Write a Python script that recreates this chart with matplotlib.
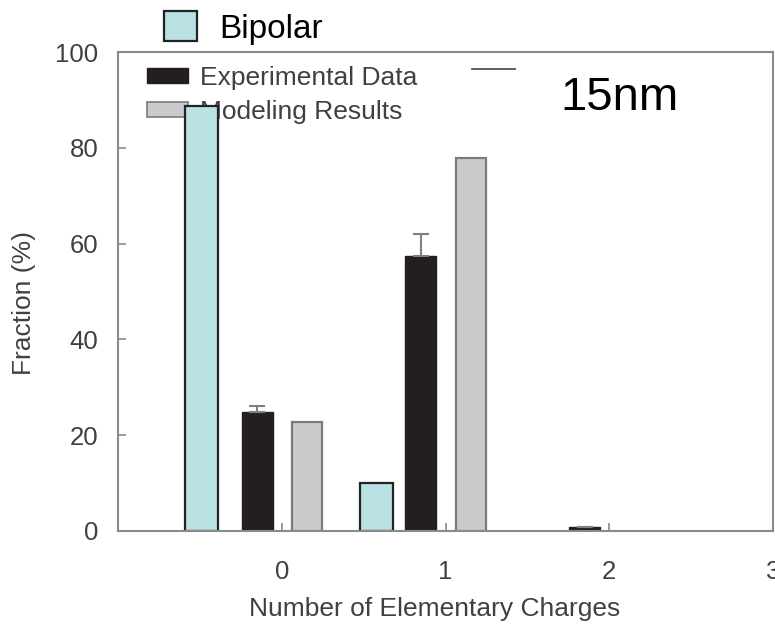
"""Charge distribution of 15nm particles: bipolar vs experiment vs model."""
import matplotlib
matplotlib.use("Agg")
import matplotlib.pyplot as plt
from matplotlib.patches import Patch
from matplotlib.lines import Line2D

plt.rcParams['font.family'] = ['Liberation Sans', 'DejaVu Sans']

# data
charges = [0, 1, 2]
bipolar = [88.7, 10.0]            # only charges 0 and 1
experimental = [24.8, 57.4, 0.9]
exp_err_up = [1.3, 4.6, 0.0]
modeling = [22.8, 77.9]           # nothing at charge 2
tick_labels = ['0', '1', '2', '3']

W, H = 775, 630
fig = plt.figure(figsize=(W / 100, H / 100), dpi=100)
ax = fig.add_axes([118 / W, 1 - 531 / H, 655 / W, 479 / H])

txt = '#404040'
spine_c = '#8a8a8a'

# bipolar bars sit a bit differently in each group
bip_shift = [-0.49, -0.42]
ax.bar([c + s for c, s in zip(charges[:2], bip_shift)], bipolar, width=0.2,
       color='#b9e1e4', edgecolor='#222222', linewidth=1.6, zorder=2)
ax.bar([c - 0.15 for c in charges], experimental, width=0.19,
       color='#231f20', edgecolor='#231f20', linewidth=1.0, zorder=2,
       yerr=[[0] * 3, exp_err_up], capsize=5.8,
       error_kw=dict(ecolor='#808080', elinewidth=1.5, capthick=1.5))
ax.bar([c + 0.155 for c in charges[:2]], modeling, width=0.18,
       color='#c9cbcd', edgecolor='#7a7a7a', linewidth=1.6, zorder=2)

ax.set_xlim(-1, 3)
ax.set_ylim(0, 100)
ax.set_xticks([0, 1, 2, 3])
ax.set_xticklabels(tick_labels)
ax.set_yticks(range(0, 101, 20))
ax.tick_params(direction='in', length=6, width=1.2, color=spine_c,
               labelcolor=txt, labelsize=18.5)
ax.tick_params(axis='y', pad=14)
ax.tick_params(axis='x', pad=21)
for sp in ax.spines.values():
    sp.set_color(spine_c)
    sp.set_linewidth(1.5)

ax.set_xlabel('Number of Elementary Charges', fontsize=19, color=txt)
ax.xaxis.set_label_coords(0.484, -0.138)
ax.set_ylabel('Fraction (%)', fontsize=19, color=txt)
ax.yaxis.set_label_coords(-0.125, 0.476)

# legend inside the axes, drawn under the bars
handles = [Patch(facecolor='#231f20', edgecolor='#231f20'),
           Patch(facecolor='#c9cbcd', edgecolor='#7a7a7a', linewidth=1.2)]
leg = ax.legend(handles, ['Experimental Data', 'Modeling Results'],
                loc='upper left', bbox_to_anchor=(147 / W, 1 - 66 / H),
                bbox_transform=fig.transFigure, frameon=False, fontsize=19,
                handlelength=1.55, handleheight=0.5, handletextpad=0.45,
                labelspacing=0.39, borderpad=0, borderaxespad=0)
for t in leg.get_texts():
    t.set_color(txt)
leg.set_zorder(1)

# bipolar legend above the axes
fig.legend([Patch(facecolor='#b9e1e4', edgecolor='#222222', linewidth=1.6)],
           ['Bipolar'], loc='center left',
           bbox_to_anchor=(164 / W, 1 - 28 / H), frameon=False, fontsize=24,
           handlelength=1.0, handleheight=1.0, handletextpad=0.65,
           borderpad=0, borderaxespad=0)

fig.text(560 / W, 1 - 98 / H, '15nm', fontsize=34, color='black',
         ha='left', va='center')
fig.add_artist(Line2D([472 / W, 515 / W], [1 - 69 / H, 1 - 69 / H],
                      color='#505050', linewidth=1.3))

fig.savefig('out.png', dpi=100)
